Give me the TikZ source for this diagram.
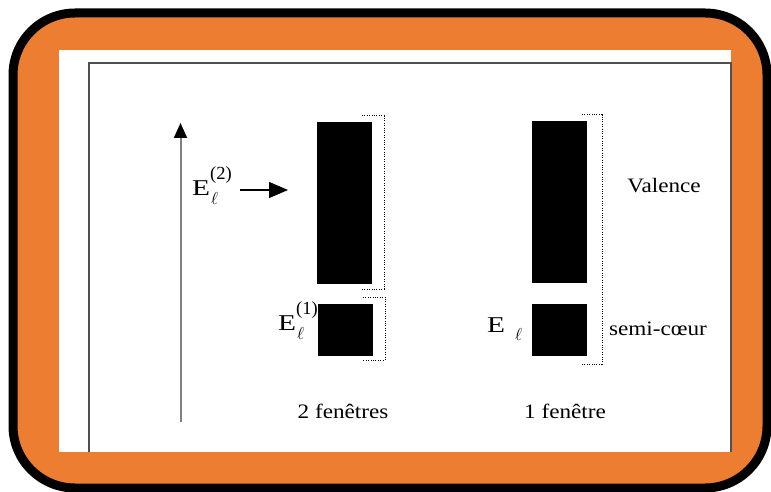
\documentclass[tikz,border=0pt]{standalone}
\usepackage{fontspec}
\usepackage{graphicx}
\setmainfont{Liberation Serif}
\usetikzlibrary{arrows.meta}
\definecolor{frameorange}{HTML}{ED7D31}
\definecolor{framegray}{HTML}{505050}
\tikzset{
  band/.style={fill=black, draw=none, inner sep=0pt},
  bracket/.style={line width=1pt, dash pattern=on 1pt off 1.4pt},
  lbl/.style={inner sep=0pt, font=\fontsize{20.5}{24}\selectfont},
  elabel/.style={inner sep=0pt, font=\fontsize{22.6}{27}\selectfont},
}
\newcommand{\wide}[1]{\scalebox{1.13}[1]{#1}}
\newcommand{\bigE}{\scalebox{1.3}[1]{E}}
\newcommand{\ellsub}[1]{\raisebox{#1}{\fontsize{16}{16}\selectfont$\ell$}}
% E with a subscript ell and a window index set above it
\newcommand{\Ewin}[1]{\bigE\rlap{\hspace{1pt}\ellsub{-9pt}}\raisebox{15.5pt}{\fontsize{18.5}{18.5}\selectfont (#1)}}
\begin{document}
\begin{tikzpicture}[x=1pt,y=-1pt]
\useasboundingbox (0,0) rectangle (771,492);
% outer rounded panel
\draw[line width=9pt, fill=frameorange, rounded corners=62pt] (13,13) rectangle (767,488);
\fill[white] (59,50) rectangle (731,452);
% page frame (open at the bottom)
\draw[framegray, line width=1.5pt] (89,452) -- (89,63) -- (731,63) -- (731,452);

% energy axis
\coordinate (axb) at (180.5,422);
\coordinate (axt) at (180.5,123);
\draw[gray, line width=2pt, -{Triangle[length=15pt,width=13pt,color=black]}] (axb) -- (axt);

% two-window bands
\node[band, minimum width=55pt, minimum height=162pt] (v2) at (344.5,203) {};
\node[band, minimum width=55pt, minimum height=52pt] (c2) at (345.5,330) {};
% one-window bands
\node[band, minimum width=55pt, minimum height=162pt] (v1) at (559.5,202) {};
\node[band, minimum width=55pt, minimum height=52pt] (c1) at (559.5,330) {};

% dotted window brackets
\draw[bracket] (362,116) -- (384,116) -- (384,289) -- (362,289);
\draw[bracket] (363,297) -- (385,297) -- (385,360) -- (363,360);
\draw[bracket] (582,115) -- (602,115) -- (602,364) -- (582,364);

% energy labels
\node[elabel, anchor=base west] (e2) at (192,195) {\Ewin{2}};
\coordinate (e2tail) at (240,190);
\coordinate (e2tip) at (288,190);
\draw[line width=1.3pt, -{Triangle[length=19pt,width=16pt]}] (e2tail) -- (e2tip);
\node[elabel, anchor=base west] (e1) at (278,330) {\Ewin{1}};
\node[elabel, anchor=base west] (e0) at (487,332) {\bigE\hspace{10pt}\ellsub{-8pt}};

% band names
\node[lbl, anchor=base] (val) at (664,192) {\wide{Valence}};
\node[lbl, anchor=base] (semi) at (658,335) {\wide{semi-cœur}};

% captions
\node[lbl, anchor=base] (cap2) at (343,418) {\wide{2 fenêtres}};
\node[lbl, anchor=base] (cap1) at (565,418) {\wide{1 fenêtre}};
\end{tikzpicture}
\end{document}
